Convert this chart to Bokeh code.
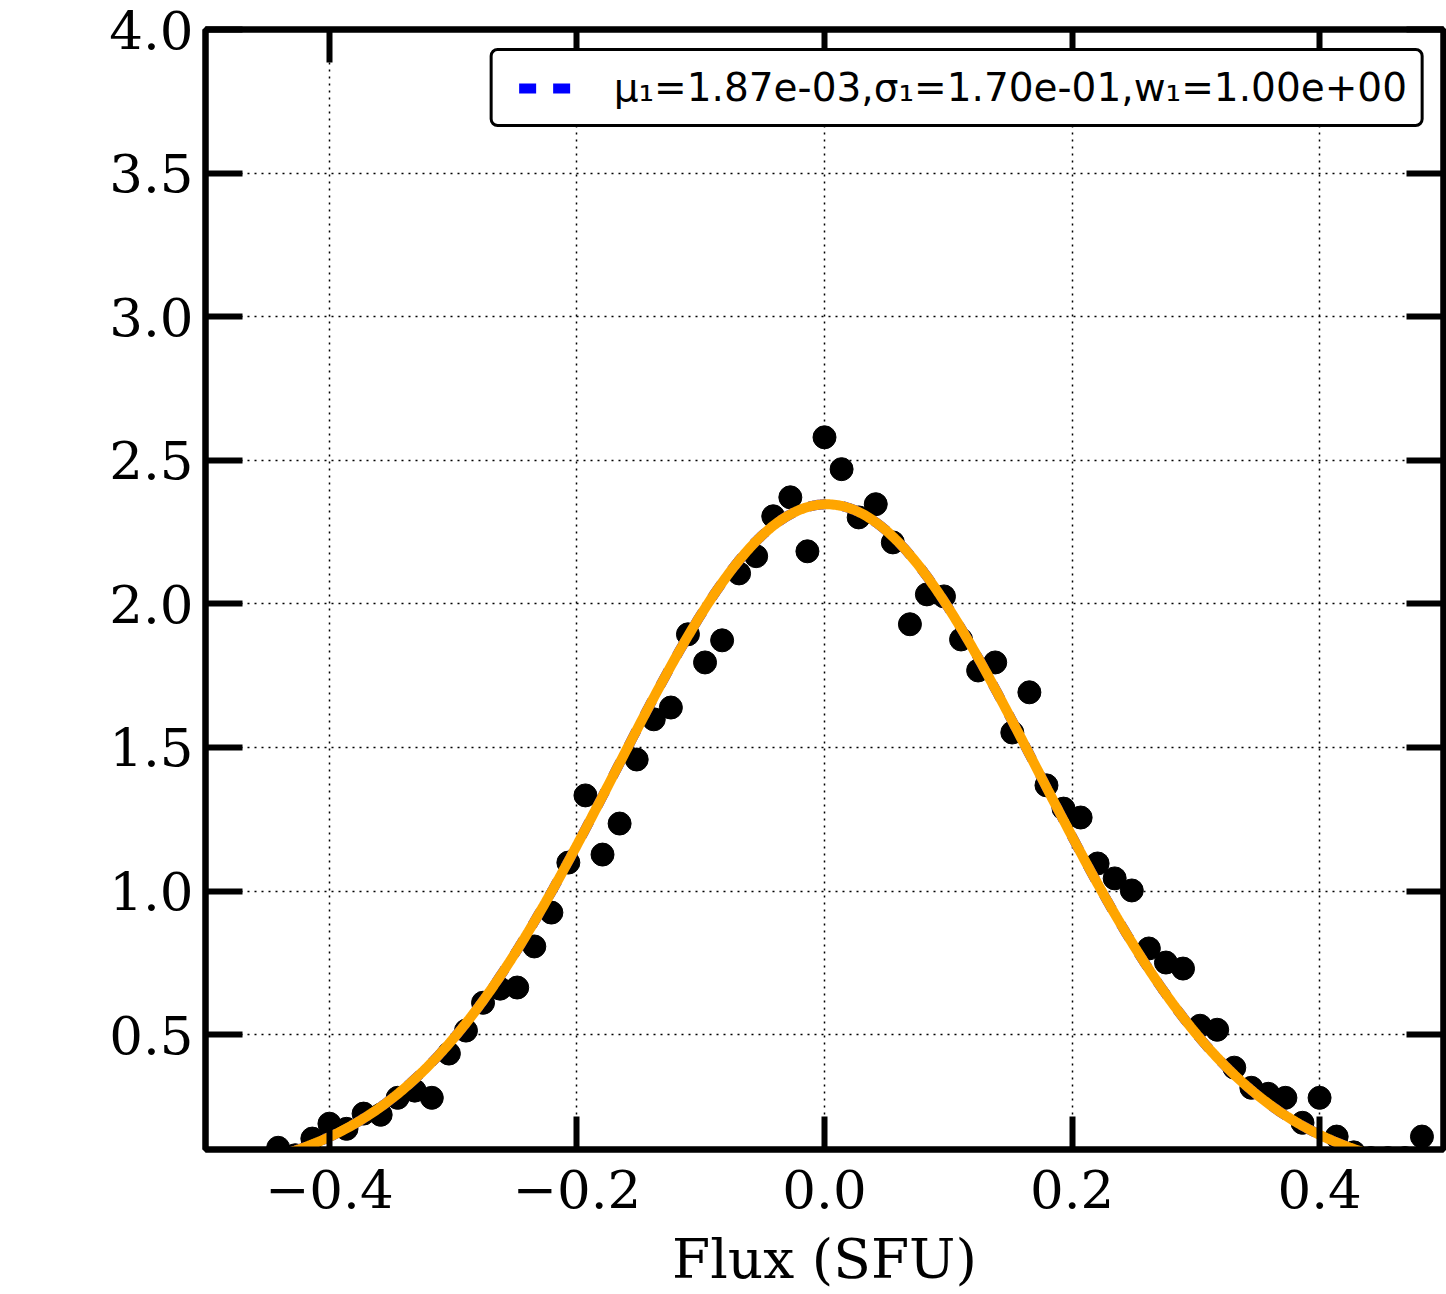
import numpy as np
from bokeh.plotting import figure
from bokeh.models import (LinearAxis, FixedTicker, CustomJSTickFormatter, Legend,
                          LegendItem, Range1d)
from bokeh.embed import file_html
from bokeh.resources import INLINE

# ---------------- data ----------------
flux = [-0.4413, -0.4275, -0.4137, -0.3999, -0.3861, -0.3723, -0.3585, -0.3448,
        -0.3310, -0.3172, -0.3034, -0.2896, -0.2758, -0.2620, -0.2482, -0.2344,
        -0.2206, -0.2069, -0.1931, -0.1793, -0.1655, -0.1517, -0.1379, -0.1241,
        -0.1103, -0.0965, -0.0827, -0.0690, -0.0552, -0.0414, -0.0276, -0.0138,
        0.0000, 0.0138, 0.0276, 0.0414, 0.0552, 0.0690, 0.0827, 0.0965,
        0.1103, 0.1241, 0.1379, 0.1517, 0.1655, 0.1793, 0.1931, 0.2069,
        0.2206, 0.2344, 0.2482, 0.2620, 0.2758, 0.2896, 0.3034, 0.3172,
        0.3310, 0.3448, 0.3585, 0.3723, 0.3861, 0.3999, 0.4137, 0.4275,
        0.4413, 0.4551, 0.4689, 0.4826]
density = [0.106, 0.080, 0.138, 0.190, 0.172, 0.225, 0.221, 0.280,
           0.305, 0.280, 0.434, 0.514, 0.611, 0.660, 0.664, 0.807,
           0.925, 1.099, 1.333, 1.127, 1.235, 1.458, 1.598, 1.639,
           1.894, 1.796, 1.873, 2.106, 2.166, 2.305, 2.371, 2.183,
           2.580, 2.469, 2.301, 2.347, 2.214, 1.929, 2.033, 2.026,
           1.876, 1.768, 1.796, 1.552, 1.692, 1.368, 1.287, 1.256,
           1.096, 1.044, 1.002, 0.800, 0.751, 0.730, 0.531, 0.517,
           0.385, 0.315, 0.294, 0.280, 0.193, 0.280, 0.145, 0.090,
           0.070, 0.070, 0.070, 0.145]

# fitted Gaussian component (parameters as printed in the legend)
mu1 = 1.87e-03
sigma1 = 1.70e-01
w1 = 1.00e+00

x_ticks = [-0.4, -0.2, 0.0, 0.2, 0.4]
y_ticks = [0.5, 1.0, 1.5, 2.0, 2.5, 3.0, 3.5, 4.0]
legend_label = "\u03bc\u2081=1.87e-03,\u03c3\u2081=1.70e-01,w\u2081=1.00e+00"
x_label = "Flux (SFU)"

# model curve evaluated from the fit parameters
xc = np.linspace(min(flux), max(flux), 600)
comp1 = w1 * np.exp(-0.5 * ((xc - mu1) / sigma1) ** 2) / (sigma1 * np.sqrt(2 * np.pi))
total = comp1

# ---------------- figure ----------------
p = figure(width=1446, height=1294,
           x_range=Range1d(-0.5, 0.5), y_range=Range1d(0.1, 4.0),
           output_backend="svg", toolbar_location=None,
           min_border_left=205, min_border_right=3,
           min_border_top=29, min_border_bottom=145)
p.background_fill_color = "white"
p.border_fill_color = "white"
p.outline_line_color = "black"
p.outline_line_width = 6

fmt = CustomJSTickFormatter(code="return tick.toFixed(1).replace('-', '\u2212');")
blank = CustomJSTickFormatter(code="return '';")

def style_axis(ax, ticks, tick_len, show_labels):
    ax.ticker = FixedTicker(ticks=ticks)
    ax.axis_line_color = "black"
    ax.axis_line_width = 6
    ax.major_tick_in = tick_len
    ax.major_tick_out = 0
    ax.major_tick_line_width = 6
    ax.major_tick_line_color = "black"
    ax.minor_tick_line_color = None
    ax.major_label_text_font = "DejaVu Serif"
    ax.major_label_text_color = "black"
    if show_labels:
        ax.formatter = fmt
        ax.major_label_text_font_size = "53px"
    else:
        ax.formatter = blank
        ax.major_label_text_font_size = "1px"
        ax.major_label_standoff = 0

xb = p.xaxis[0]
yl = p.yaxis[0]
style_axis(xb, x_ticks, 33, True)
style_axis(yl, y_ticks, 37, True)
xb.major_label_standoff = 20
yl.major_label_standoff = 12
xb.axis_label = x_label
xb.axis_label_text_font = "DejaVu Serif"
xb.axis_label_text_font_size = "55px"
xb.axis_label_text_font_style = "normal"
xb.axis_label_text_color = "black"
xb.axis_label_standoff = 16

xt = LinearAxis()
style_axis(xt, x_ticks, 33, False)
p.add_layout(xt, "above")
yr = LinearAxis()
style_axis(yr, y_ticks, 37, False)
p.add_layout(yr, "right")

for g, t in ((p.xgrid[0], x_ticks), (p.ygrid[0], y_ticks)):
    g.ticker = FixedTicker(ticks=t)
    g.grid_line_color = "black"
    g.grid_line_width = 1.5
    g.grid_line_dash = "2 5"

p.scatter(flux, density, size=23, fill_color="black", line_color="black")
blue = p.line(xc, comp1, line_color="blue", line_width=10, line_dash="17 17",
              line_dash_offset=22)
p.line(xc, total, line_color="orange", line_width=10)

legend = Legend(items=[LegendItem(label=legend_label, renderers=[blue])],
                location="top_right")
legend.border_line_color = "black"
legend.border_line_width = 3
legend.border_line_alpha = 1.0
if "border_radius" in Legend.properties():
    legend.border_radius = 8
legend.background_fill_color = "white"
legend.background_fill_alpha = 1.0
legend.margin = 19
legend.padding = 14
legend.glyph_width = 70
legend.glyph_height = 20
legend.label_standoff = 37
legend.label_text_font = "DejaVu Sans"
legend.label_text_font_size = "39px"
legend.label_text_color = "black"
p.add_layout(legend)

open("out.html", "w").write(file_html(p, INLINE))
